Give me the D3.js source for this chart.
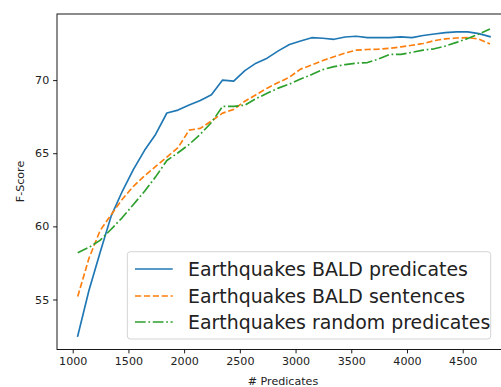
<!DOCTYPE html>
<html><head><meta charset="utf-8">
<script src="https://cdn.jsdelivr.net/npm/d3@7"></script>
<style>body{margin:0;background:#fff}svg{display:block}text{font-family:"DejaVu Sans",sans-serif;fill:#222}</style>
</head><body><svg id="c" width="501" height="387"></svg>
<script>
const predicates = [1045,1145,1245,1345,1445,1545,1645,1745,1845,1945,2045,2145,2245,2345,2445,2545,2645,2745,2845,2945,3045,3145,3245,3345,3445,3545,3645,3745,3845,3945,4045,4145,4245,4345,4445,4545,4645,4745];
const baldPredicates = [52.5,55.6,58.2,60.7,62.4,63.9,65.2,66.3,67.75,67.95,68.3,68.6,69.0,70.0,69.93,70.65,71.16,71.5,72.0,72.43,72.67,72.9,72.86,72.79,72.95,73.0,72.91,72.9,72.9,72.96,72.9,73.05,73.15,73.25,73.3,73.3,73.18,72.97];
const baldSentences = [55.2,57.8,59.7,60.8,61.85,62.74,63.46,64.1,64.73,65.38,66.58,66.7,67.2,67.74,68.0,68.56,69.0,69.45,69.83,70.2,70.75,71.03,71.34,71.6,71.85,72.05,72.09,72.12,72.17,72.27,72.38,72.5,72.7,72.82,72.88,72.9,72.81,72.47];
const randomPredicates = [58.2,58.56,59.04,59.8,60.6,61.5,62.4,63.4,64.5,65.03,65.6,66.3,67.1,68.2,68.2,68.29,68.73,69.1,69.45,69.73,70.07,70.38,70.72,70.92,71.06,71.16,71.2,71.44,71.76,71.76,71.9,72.05,72.14,72.33,72.58,72.84,73.15,73.5];
const seriesNames = ["Earthquakes BALD predicates","Earthquakes BALD sentences","Earthquakes random predicates"];
const xTicks = [1000,1500,2000,2500,3000,3500,4000,4500];
const yTicks = [55,60,65,70];

const series = [
  {name: seriesNames[0], values: baldPredicates, color: "#1f77b4", dash: null},
  {name: seriesNames[1], values: baldSentences, color: "#ff7f0e", dash: "6.2,2.7"},
  {name: seriesNames[2], values: randomPredicates, color: "#2ca02c", dash: "10.7,2.7,1.7,2.7"}
];

const svg = d3.select("#c");
const L = 57, T = 14, R = 508.6, B = 349.5;
const x = d3.scaleLinear().domain([859, 4912]).range([L, R]);
const y = d3.scaleLinear().domain([51.58, 74.52]).range([B, T]);

const g = svg.append("g");
const line = d3.line().x((d,i)=>x(predicates[i])).y(d=>y(d));
series.forEach(s=>{
  g.append("path").datum(s.values).attr("d", line).attr("fill","none")
   .attr("stroke", s.color).attr("stroke-width",1.67)
   .attr("stroke-dasharray", s.dash).attr("stroke-linecap", s.dash ? "butt" : "square").attr("stroke-linejoin","round");
});

const xa = svg.append("g").attr("transform",`translate(0,${B})`)
  .call(d3.axisBottom(x).tickValues(xTicks).tickSize(3.9).tickPadding(3.9).tickFormat(d3.format("d")));
const ya = svg.append("g").attr("transform",`translate(${L},0)`)
  .call(d3.axisLeft(y).tickValues(yTicks).tickSize(3.9).tickPadding(3.9).tickFormat(d3.format("d")));
[xa,ya].forEach(a=>{
  a.select(".domain").remove();
  a.selectAll("line").attr("stroke","#000").attr("stroke-width",0.9);
  a.selectAll("text").attr("font-size","11.1px").attr("font-family","DejaVu Sans").attr("fill","#222");
});
// spines
svg.append("rect").attr("x",L).attr("y",T).attr("width",R-L).attr("height",B-T)
  .attr("fill","none").attr("stroke","#000").attr("stroke-width",0.9);

svg.append("text").attr("x",283).attr("y",385).attr("text-anchor","middle")
  .attr("font-size","11.1px").text("# Predicates");
svg.append("text").attr("transform","translate(24,181.5) rotate(-90)").attr("text-anchor","middle")
  .attr("font-size","11.1px").text("F-Score");

// legend
const lg = svg.append("g");
lg.append("rect").attr("x",127.3).attr("y",251.7).attr("width",363.4).attr("height",87.3)
  .attr("rx",3).attr("fill","#fff").attr("fill-opacity",0.8).attr("stroke","#d4d4d4").attr("stroke-width",1);
const rowY = [269, 296, 322];
series.forEach((s,i)=>{
  lg.append("line").attr("x1",135).attr("x2",172.7).attr("y1",rowY[i]).attr("y2",rowY[i])
    .attr("stroke",s.color).attr("stroke-width",1.67).attr("stroke-dasharray",s.dash);
  lg.append("text").attr("x",188).attr("y",rowY[i]).attr("dy","0.35em")
    .attr("font-size","18.9px").text(s.name);
});
</script></body></html>
